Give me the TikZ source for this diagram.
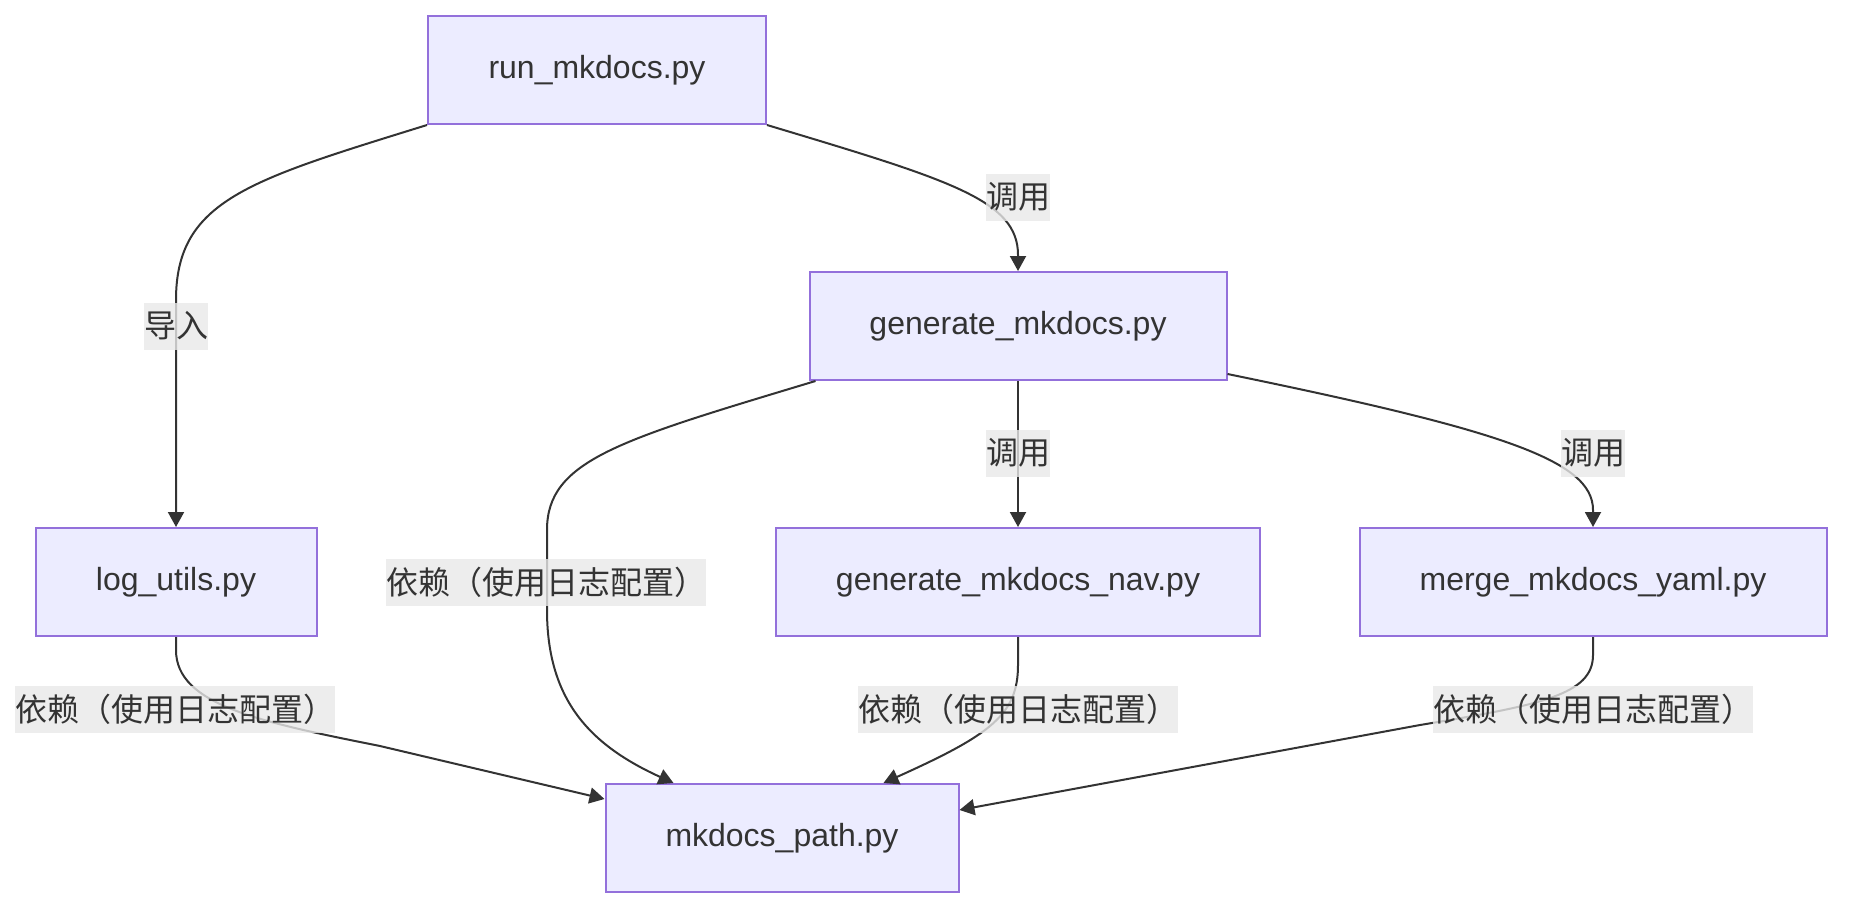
\documentclass[tikz,border=0pt]{standalone}
\usepackage{fontspec}
\setmainfont{Liberation Sans}
\newfontfamily\cjkfont{Noto Sans CJK SC}
\usepackage{tikz}
\usetikzlibrary{arrows.meta}
\definecolor{boxfill}{HTML}{ECECFF}
\definecolor{boxline}{HTML}{9370DB}
\definecolor{ink}{HTML}{333333}
\definecolor{labelgray}{HTML}{E8E8E8}

\begin{document}
\begin{tikzpicture}[x=0.5pt, y=-0.5pt,
		module/.style={
			draw=boxline,
			fill=boxfill,
			line width=1pt,
			text=ink,
			font=\fontsize{16}{19}\selectfont,
			minimum height=54pt,
			inner sep=0pt,
		},
		edgelabel/.style={
			fill=labelgray,
			fill opacity=0.8,
			text opacity=1,
			text=ink,
			font=\cjkfont\fontsize{16}{19}\selectfont,
			inner sep=0pt,
			minimum height=23.5pt,
		},
		link/.style={draw=ink, line width=1pt, -{Triangle[length=7.5pt, width=8pt]}}]
		\useasboundingbox (0,0) rectangle (1851,916);
		
		\node[module, minimum width=169pt] (run) at (597,70) {run\_mkdocs.py};
		\node[module, minimum width=208.5pt] (gen) at (1018,326) {generate\_mkdocs.py};
		\node[module, minimum width=140.5pt] (log) at (176,582) {log\_utils.py};
		\node[module, minimum width=242pt] (nav) at (1018,582) {generate\_mkdocs\_nav.py};
		\node[module, minimum width=233.5pt] (merge) at (1593,582) {merge\_mkdocs\_yaml.py};
		\node[module, minimum width=176.5pt] (path) at (782,838) {mkdocs\_path.py};
		
		\draw[link] (run.south west) .. controls (250,180) and (176,200) .. (176,300) -- (log.north);
		\draw[link] (run.south east) .. controls (950,180) and (1018,200) .. (1018,255) -- (gen.north);
		\draw[link] ([xshift=3.5pt]gen.south west) .. controls (620,440) and (547,460) .. (547,530) -- (547,610) .. controls (547,700) and (590,745) .. ([xshift=34.5pt]path.north west);
		\draw[link] (gen.south) -- (nav.north);
		\draw[link] ([yshift=3.5pt]gen.south east) .. controls (1500,430) and (1593,460) .. (1593,510) -- (merge.north);
		\draw[link] (log.south) -- (176,650) .. controls (176,705) and (260,722) .. (380,746) -- ([yshift=19.5pt]path.west);
		\draw[link] (nav.south) -- (1018,665) .. controls (1018,715) and (990,735) .. ([xshift=-38pt]path.north east);
		\draw[link] (merge.south) -- (1593,655) .. controls (1593,695) and (1540,705) .. (1420,725) -- ([yshift=14pt]path.east);
		
		\node[edgelabel] (lblimport) at (176,326) {导入};
		\node[edgelabel] (lblcallgen) at (1018,197) {调用};
		\node[edgelabel] (lblcallnav) at (1018,453) {调用};
		\node[edgelabel] (lblcallmerge) at (1593,453) {调用};
		\node[edgelabel] (lbldeplog) at (175,709) {依赖（使用日志配置）};
		\node[edgelabel] (lbldepgen) at (546,582) {依赖（使用日志配置）};
		\node[edgelabel] (lbldepnav) at (1018,709) {依赖（使用日志配置）};
		\node[edgelabel] (lbldepmerge) at (1593,709) {依赖（使用日志配置）};
	\end{tikzpicture}
\end{document}
